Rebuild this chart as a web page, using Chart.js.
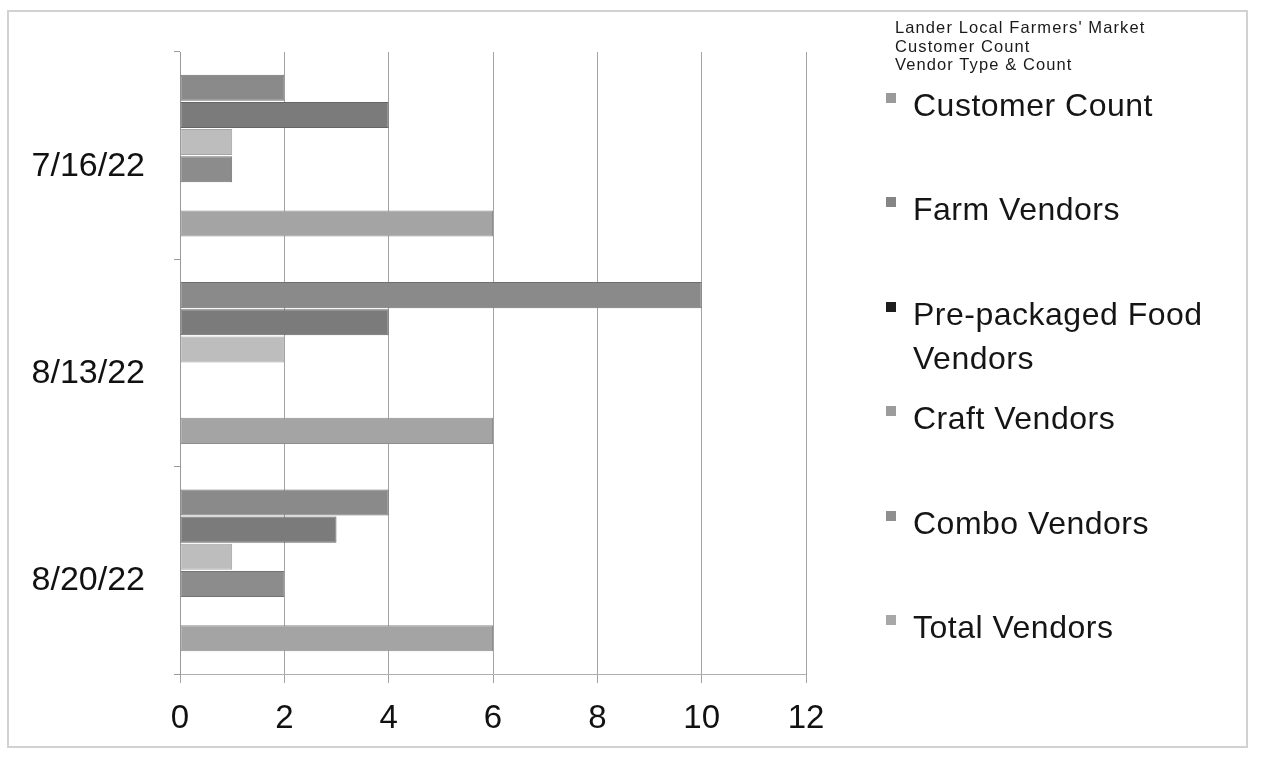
<!DOCTYPE html>
<html>
<head>
<meta charset="utf-8">
<title>Lander Local Farmers' Market</title>
<script src="https://cdn.jsdelivr.net/npm/chart.js@4.4.1/dist/chart.umd.min.js"></script>
<style>
  html, body { margin: 0; padding: 0; background: #fff; }
  body { width: 1261px; height: 759px; position: relative; overflow: hidden;
         font-family: "Liberation Sans", Arial, sans-serif; color: #111; }
  #frame { position: absolute; left: 7px; top: 10px; width: 1241px; height: 738px;
           border: 2px solid #d2d2d2; box-sizing: border-box; }
  #chart { position: absolute; left: 0; top: 0; }
  #title { position: absolute; left: 895px; top: 18px; font-size: 16.5px;
           line-height: 18.5px; letter-spacing: 1.1px; color: #1a1a1a; }
  #legend { position: absolute; left: 886px; top: 83px; width: 360px; }
  .item { position: relative; height: 104.4px; }
  .swatch { position: absolute; left: 0; top: 10px; width: 10px; height: 10px; }
  .label { position: absolute; left: 27px; top: 0; width: 320px; font-size: 32px;
           line-height: 44px; letter-spacing: 0.5px; color: #151515; }
</style>
</head>
<body>
<div id="frame"></div>
<canvas id="chart" width="1261" height="759"></canvas>
<div id="title"></div>
<div id="legend"></div>
<script>
// Market days
const dates = ["7/16/22", "8/13/22", "8/20/22"];

// Series, one array per measure (same order as dates)
const customerCount    = [2, 10, 4];
const farmVendors      = [4, 4, 3];
const prepackagedFood  = [1, 2, 1];
const craftVendors     = [1, 0, 2];
const comboVendors     = [0, 0, 0];
const totalVendors     = [6, 6, 6];

const seriesNames = ["Customer Count", "Farm Vendors", "Pre-packaged Food Vendors",
                     "Craft Vendors", "Combo Vendors", "Total Vendors"];
const seriesValues = [customerCount, farmVendors, prepackagedFood,
                      craftVendors, comboVendors, totalVendors];

// Value axis ticks
const xTicks = [0, 2, 4, 6, 8, 10, 12];

const titleLines = ["Lander Local Farmers' Market", "Customer Count", "Vendor Type & Count"];

// Grey fills for the bars, and the swatch tones used in the key
const fills   = ["#8a8a8a", "#7b7b7b", "#bdbdbd", "#8c8c8c", "#8a8a8a", "#a4a4a4"];
const borders = ["#6f6f6f", "#646464", "#a5a5a5", "#737373", "#707070", "#8e8e8e"];
const swatches = ["#9a9a9a", "#858585", "#1e1e1e", "#9c9c9c", "#8f8f8f", "#a8a8a8"];

const FONT = "'Liberation Sans', Arial, sans-serif";

const datasets = seriesNames.map((name, i) => ({
  label: name,
  data: seriesValues[i],
  backgroundColor: fills[i],
  borderColor: borders[i],
  borderWidth: 1,
  borderSkipped: false,
  categoryPercentage: 0.786,
  barPercentage: 0.96
}));

new Chart(document.getElementById("chart"), {
  type: "bar",
  data: { labels: dates, datasets },
  options: {
    indexAxis: "y",
    responsive: false,
    animation: false,
    events: [],
    layout: { padding: { top: 52, right: 455, left: 0, bottom: 0 } },
    plugins: { legend: { display: false }, tooltip: { enabled: false } },
    scales: {
      x: {
        min: 0, max: 12,
        afterBuildTicks: (axis) => { axis.ticks = xTicks.map(v => ({ value: v })); },
        afterFit: (axis) => { axis.height = 85; },
        grid: { color: "#a3a3a3", lineWidth: 1, tickLength: 9, drawTicks: true },
        border: { color: "#b0b0b0", width: 1 },
        ticks: { color: "#111", font: { family: FONT, size: 33 }, padding: 16, maxRotation: 0 }
      },
      y: {
        afterFit: (axis) => { axis.width = 180; },
        grid: { drawOnChartArea: false, color: "#9a9a9a", tickLength: 6, offset: true },
        border: { color: "#9a9a9a", width: 1 },
        ticks: {
          color: "#111",
          // an empty first line sets each date a little below the middle of its group
          font: { family: FONT, size: 34, lineHeight: 0.62 },
          padding: 29,
          callback: function (value) { return ["", this.getLabelForValue(value)]; }
        }
      }
    }
  }
});

// Key on the right: heading lines, then one swatch + name per series
document.getElementById("title").innerHTML = titleLines.map(t => "<div>" + t + "</div>").join("");
const legend = document.getElementById("legend");
seriesNames.forEach((name, i) => {
  const item = document.createElement("div");
  item.className = "item";
  const sw = document.createElement("div");
  sw.className = "swatch";
  sw.style.background = swatches[i];
  const lab = document.createElement("div");
  lab.className = "label";
  lab.textContent = name;
  item.appendChild(sw);
  item.appendChild(lab);
  legend.appendChild(item);
});
</script>
</body>
</html>
